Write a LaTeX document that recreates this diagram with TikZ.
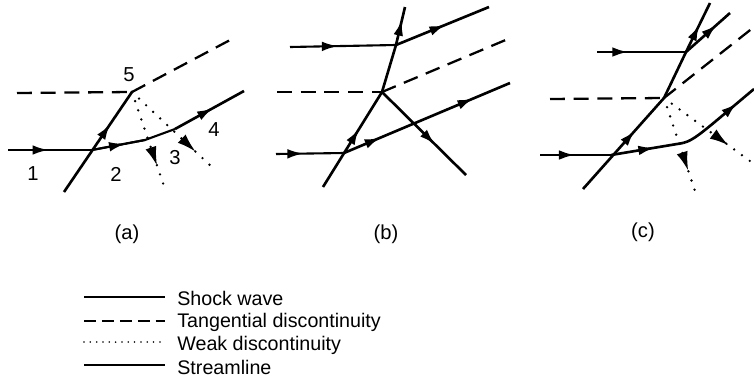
\documentclass[tikz,border=0pt]{standalone}
\usepackage{fontspec}
\setmainfont{Liberation Sans}
\usetikzlibrary{arrows.meta,decorations.markings}
\tikzset{
    shockline/.style={draw, line width=1.5pt},
    streamline/.style={draw, line width=1.2pt},
    tangline/.style={draw, line width=1.3pt, dash pattern=on 8.5pt off 5pt},
    weakline/.style={draw, line width=1.5pt, line cap=round, dash pattern=on 0pt off 5.5pt},
    tip/.style={postaction={solid, line cap=butt, decorate, decoration={markings, mark=at position #1 with {\arrow{Latex[length=9pt, width=5.5pt]}}}}},
    tipweak/.style={postaction={solid, line cap=butt, decorate, decoration={markings, mark=at position #1 with {\arrow{Latex[length=11pt, width=6.5pt]}}}}},
    tiptwo/.style 2 args={postaction={decorate, decoration={markings, mark=at position #1 with {\arrow{Latex[length=9pt, width=5.5pt]}}, mark=at position #2 with {\arrow{Latex[length=9pt, width=5.5pt]}}}}},
    lab/.style={inner sep=0pt, font=\fontsize{11.5}{13}\selectfont},
    legendtext/.style={anchor=west, inner sep=0pt, font=\fontsize{11.2}{13}\selectfont}
}
\begin{document}
\begin{tikzpicture}[x=0.02cm, y=-0.02cm]
    \useasboundingbox (0,0) rectangle (754,379);
    % (a)
    \coordinate (a1) at (8,150);
    \coordinate (a2) at (92,150);
    \coordinate (a3) at (145,140);
    \coordinate (a4) at (175,129);
    \coordinate (a5) at (244,91);
    \coordinate (a6) at (64,192);
    \coordinate (a7) at (132,92);
    \coordinate (a8) at (17,93);
    \coordinate (a9) at (232,39);
    \coordinate (a10) at (166,192);
    \coordinate (a11) at (213,168);
    \draw [streamline, tip=0.48] (a1) -- (a2);
    \draw [streamline] (a2) -- (a3) -- (a4);
    \draw [shockline, tip=0.55] (a4) -- (a5);
    \draw [streamline, tip=0.62] (a2) -- (a3);
    \draw [shockline, tip=0.68] (a6) -- (a7);
    \draw [tangline] (a8) -- (a7);
    \draw [tangline] (a7) -- (a9);
    \draw [weakline, tipweak=0.74] (a7) -- (a10);
    \draw [weakline, tipweak=0.79] (a7) -- (a11);
    \node [lab] (n5) at (129,75) {5};
    \node [lab] (n1) at (33,174) {1};
    \node [lab] (n2) at (116,174) {2};
    \node [lab] (n3) at (175,158) {3};
    \node [lab] (n4) at (214,130) {4};
    \node [lab] (capa) at (127,234) {(a)};
    % (b)
    \coordinate (b1) at (290,47);
    \coordinate (b2) at (396,45);
    \coordinate (b3) at (489,7);
    \coordinate (b4) at (382,92);
    \coordinate (b5) at (405,7);
    \coordinate (b6) at (276,154);
    \coordinate (b7) at (344,153);
    \coordinate (b8) at (510,83);
    \coordinate (b9) at (323,187);
    \coordinate (b10) at (277,92);
    \coordinate (b11) at (508,39);
    \coordinate (b12) at (466,175);
    \draw [streamline, tip=0.45] (b1) -- (b2);
    \draw [shockline, tip=0.53] (b2) -- (b3);
    \draw [shockline, tip=0.85] (b4) -- (b2) -- (b5);
    \draw [streamline, tip=0.4] (b6) -- (b7);
    \draw [shockline, tiptwo={0.22}{0.78}] (b7) -- (b8);
    \draw [shockline, tip=0.61] (b9) -- (b4);
    \draw [tangline] (b10) -- (b4);
    \draw [tangline] (b4) -- (b11);
    \draw [shockline, tip=0.63] (b4) -- (b12);
    \node [lab] (capb) at (386,234) {(b)};
    % (c)
    \coordinate (c1) at (597,52);
    \coordinate (c2) at (686,52);
    \coordinate (c3) at (730,13);
    \coordinate (c4) at (583,189);
    \coordinate (c5) at (611,155);
    \coordinate (c6) at (664,98);
    \coordinate (c7) at (710,3);
    \coordinate (c8) at (550,99);
    \coordinate (c9) at (754,27);
    \coordinate (c10) at (540,155);
    \coordinate (c11) at (683,143);
    \coordinate (c12) at (754,89);
    \coordinate (c13) at (696,194);
    \coordinate (c14) at (754,164);
    \draw [shockline, tip=0.35] (c1) -- (c2);
    \draw [shockline, tip=0.7] (c2) -- (c3);
    \draw [shockline, tip=0.64] (c4) -- (c6);
    \draw [shockline] (c6) -- (c2);
    \draw [shockline, tip=0.55] (c2) -- (c7);
    \draw [tangline] (c8) -- (c6);
    \draw [tangline] (c6) -- (c9);
    \draw [shockline, tip=0.49] (c10) -- (c5);
    \draw [shockline, tip=0.6] (c5) -- (c11);
    \draw [shockline, tip=0.75] (c11) .. controls (695,140) and (705,130) .. (c12);
    \draw [weakline, tipweak=0.76] (c6) -- (c13);
    \draw [weakline, tipweak=0.72] (c6) -- (c14);
    \node [lab] (capc) at (643,232) {(c)};
    % legend
    \coordinate (l1) at (84,297);
    \coordinate (l2) at (165,297);
    \coordinate (l3) at (84,321);
    \coordinate (l4) at (165,321);
    \coordinate (l5) at (84,342);
    \coordinate (l6) at (165,342);
    \coordinate (l7) at (84,365);
    \coordinate (l8) at (165,365);
    \draw [shockline] (l1) -- (l2);
    \draw [tangline, line width=1.1pt, dash pattern=on 6.8pt off 3.4pt] (l3) -- (l4);
    \draw [weakline, line width=1pt, dash pattern=on 0pt off 3.6pt] (l5) -- (l6);
    \draw [streamline] (l7) -- (l8);
    \node [legendtext] (t1) at (177,298) {Shock wave};
    \node [legendtext] (t2) at (177,322) {Tangential discontinuity};
    \node [legendtext] (t3) at (177,345) {Weak discontinuity};
    \node [legendtext] (t4) at (177,367) {Streamline};
\end{tikzpicture}
\end{document}
